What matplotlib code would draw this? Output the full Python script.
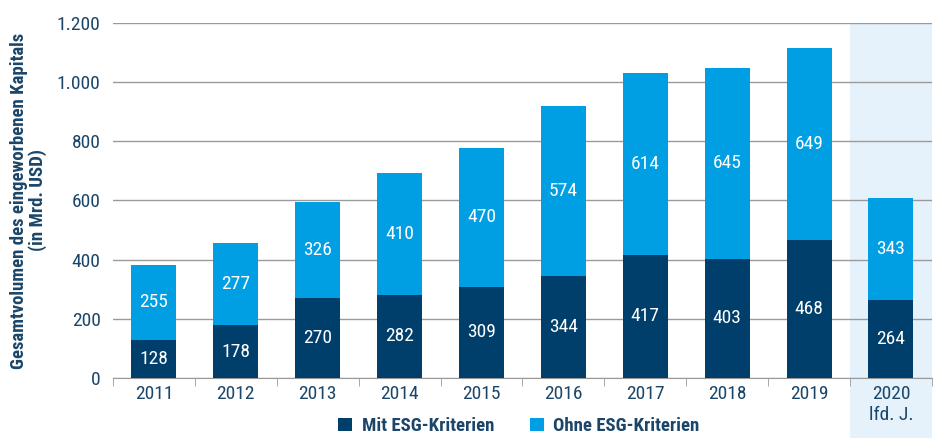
import numpy as np
import matplotlib.pyplot as plt
from matplotlib.ticker import FuncFormatter

# Daten
jahre = ["2011", "2012", "2013", "2014", "2015", "2016", "2017", "2018", "2019", "2020\nlfd. J."]
mit_esg = [128, 178, 270, 282, 309, 344, 417, 403, 468, 264]
ohne_esg = [255, 277, 326, 410, 470, 574, 614, 645, 649, 343]

dunkel = "#003e6b"
hell = "#009fe3"
text_farbe = "#1b4669"
grid_farbe = "#9a9a9a"

plt.rcParams['font.family'] = ['Roboto Condensed', 'Liberation Sans Narrow', 'Liberation Sans', 'DejaVu Sans']

fig = plt.figure(figsize=(9.38, 4.43), dpi=100)
ax = fig.add_axes([0.1205, 0.1467, 0.873, 0.8015])

x = np.arange(len(jahre))
breite = 0.55

# Hervorhebung laufendes Jahr
ax.axvspan(8.5, 9.5, ymin=-0.17, ymax=1.0, color="#e6f2fb", clip_on=False, zorder=0, lw=0)

ax.bar(x, mit_esg, breite, color=dunkel, zorder=3, label="Mit ESG-Kriterien")
ax.bar(x, ohne_esg, breite, bottom=mit_esg, color=hell, zorder=3, label="Ohne ESG-Kriterien")

for i in range(len(jahre)):
    ax.text(x[i], mit_esg[i] / 2, str(mit_esg[i]), ha="center", va="center",
            color="white", fontsize=14, zorder=4)
    ax.text(x[i], mit_esg[i] + ohne_esg[i] / 2, str(ohne_esg[i]), ha="center", va="center",
            color="white", fontsize=14, zorder=4)

ax.set_xlim(-0.5, 9.5)
ax.set_ylim(0, 1200)
ax.set_yticks(np.arange(0, 1201, 200))
ax.yaxis.set_major_formatter(FuncFormatter(lambda v, p: f"{int(v):,}".replace(",", ".")))
ax.yaxis.grid(True, color=grid_farbe, lw=1, zorder=1)
ax.set_axisbelow(True)

ax.set_xticks(x)
ax.set_xticklabels(jahre, linespacing=1.2)
ax.set_xticks(np.arange(-0.5, 10, 1), minor=True)
ax.tick_params(axis="x", which="major", length=0, pad=5, labelsize=14, labelcolor=text_farbe)
ax.tick_params(axis="x", which="minor", length=6, color=grid_farbe)
ax.tick_params(axis="y", length=0, pad=9, labelsize=14, labelcolor=text_farbe)

for s in ["top", "right", "left"]:
    ax.spines[s].set_visible(False)
ax.spines["bottom"].set_color(grid_farbe)

ax.set_ylabel("Gesamtvolumen des eingeworbenen Kapitals\n(in Mrd. USD)", fontsize=13.5,
              fontweight="bold", color=text_farbe, linespacing=1.0)
ax.yaxis.set_label_coords(-0.081, 0.5)

leg = fig.legend(loc="lower center", bbox_to_anchor=(0.553, -0.02), ncol=2, frameon=False,
                 fontsize=13.5, handlelength=0.75, handleheight=0.75, columnspacing=1.9,
                 handletextpad=0.5)
for t in leg.get_texts():
    t.set_color(text_farbe)
    t.set_fontweight("bold")

fig.savefig("out.png", dpi=100)
